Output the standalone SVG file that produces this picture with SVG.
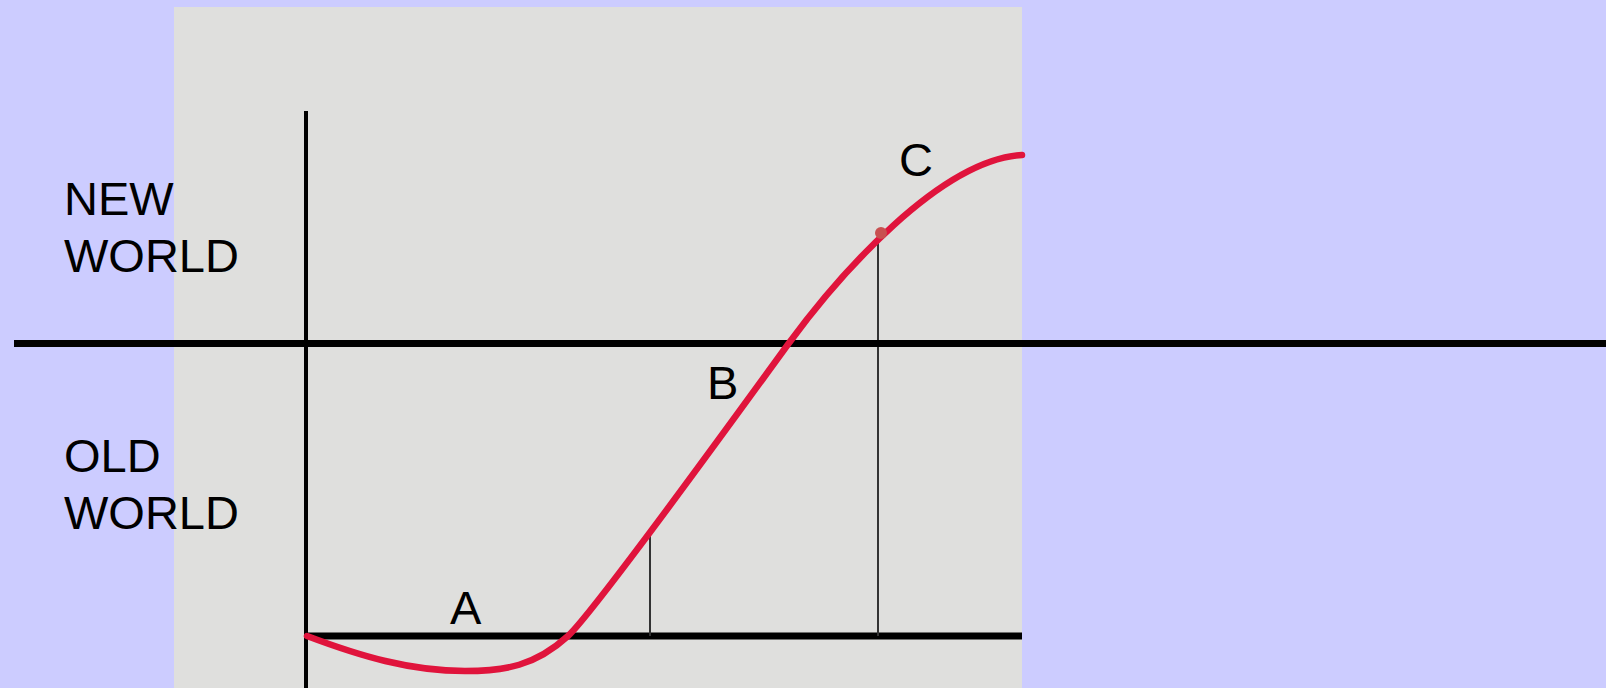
<svg xmlns="http://www.w3.org/2000/svg" width="1606" height="688" viewBox="0 0 1606 688">
<style>
.lbl{font-family:"Liberation Sans",Arial,sans-serif;font-size:47px;fill:#000}
.axis{stroke:#000;fill:none}
.tick{stroke:#333;stroke-width:2;fill:none}
</style>
<rect x="0" y="0" width="1606" height="688" fill="#ccccff"/>
<g id="plot">
<rect x="174" y="7" width="848" height="681" fill="#dfdfdd"/>
</g>
<g id="connectors">
<line class="axis" x1="306" y1="111" x2="306" y2="688" stroke-width="4"/>
<line class="axis" x1="306" y1="636" x2="1022" y2="636" stroke-width="7"/>
<line class="tick" x1="650" y1="535" x2="650" y2="636"/>
<line class="tick" x1="878" y1="240" x2="878" y2="313" stroke="#777"/>
<line class="tick" x1="878" y1="313" x2="878" y2="636"/>
<line class="axis" x1="14" y1="343.5" x2="1606" y2="343.5" stroke-width="7"/>
<path d="M307,636 C360,656 410,671 465,671 C505,671 535,666 568,636 C596,610 740,410 789,343 C839,275 940,160 1022,155" fill="none" stroke="#e0143c" stroke-width="6.5" stroke-linecap="round"/>
<circle cx="881" cy="233" r="6" fill="#c85050"/>
</g>
<g id="labels">
<text class="lbl" x="64" y="215">NEW</text>
<text class="lbl" x="64" y="272">WORLD</text>
<text class="lbl" x="64" y="472">OLD</text>
<text class="lbl" x="64" y="529">WORLD</text>
<text class="lbl" x="450" y="624">A</text>
<text class="lbl" x="707" y="399">B</text>
<text class="lbl" x="899" y="176">C</text>
</g>
</svg>
